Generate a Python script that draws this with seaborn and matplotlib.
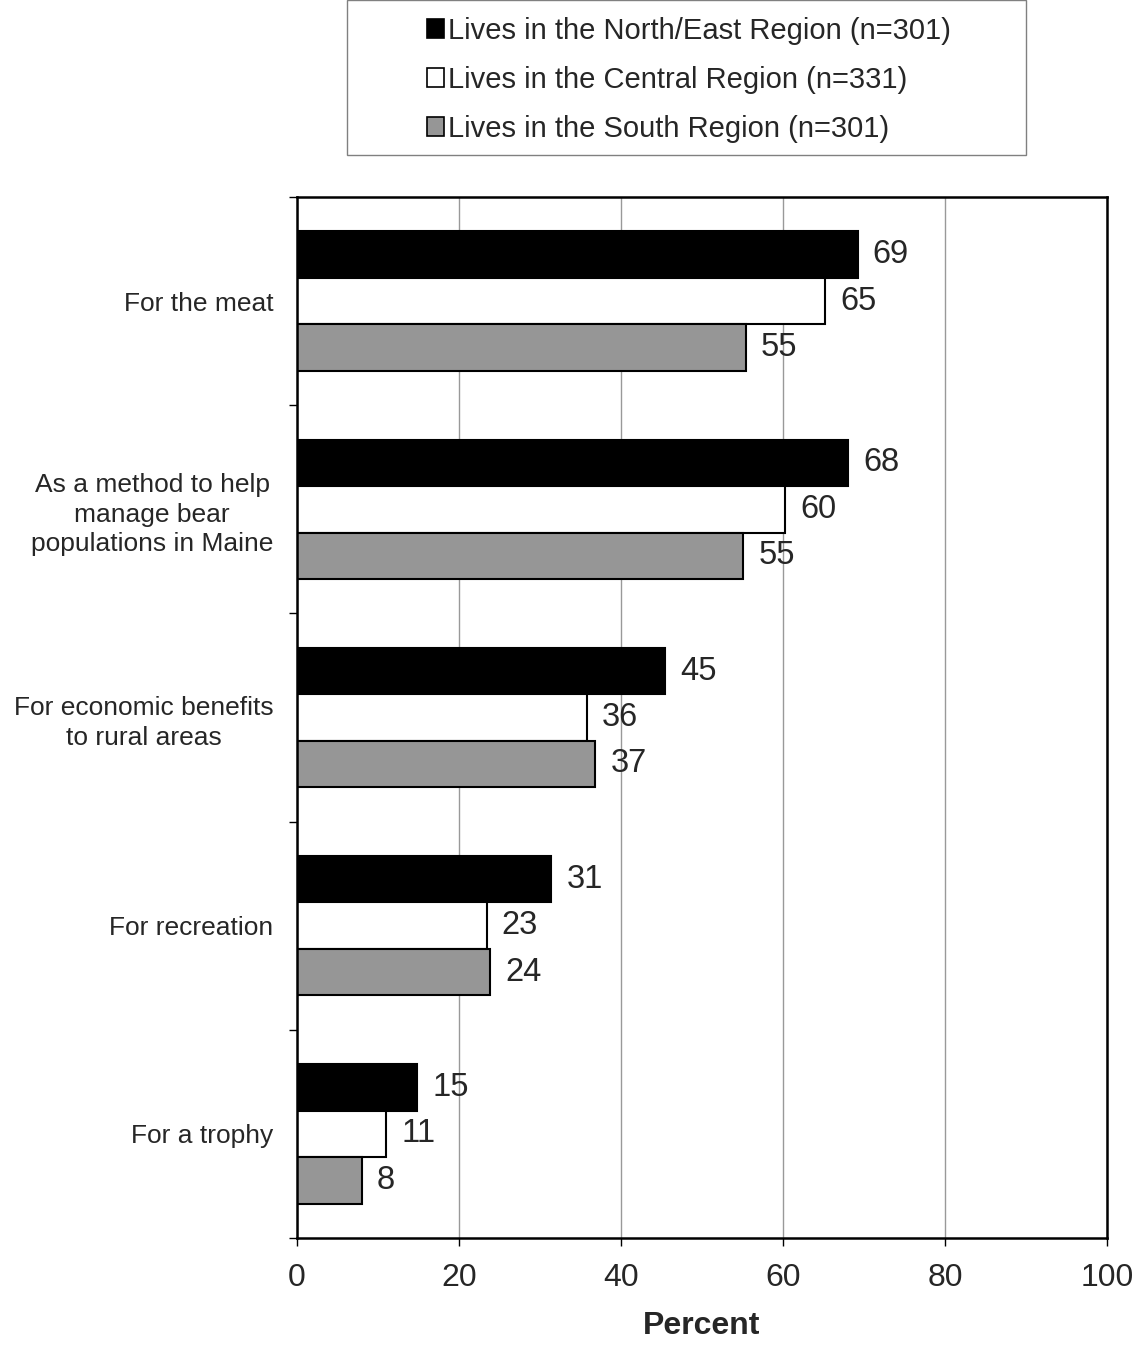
import pandas as pd
import seaborn as sns
import matplotlib.pyplot as plt
from matplotlib.patches import Rectangle
from matplotlib.ticker import FixedLocator

# Reasons for bear hunting, by region of residence (percent).
reasons = ['For the meat',
           'As a method to help\nmanage bear\npopulations in Maine',
           'For economic benefits\nto rural areas',
           'For recreation',
           'For a trophy']
regions = ['Lives in the North/East Region (n=301)',
           'Lives in the Central Region (n=331)',
           'Lives in the South Region (n=301)']
north_east = [69.2, 68.0, 45.4, 31.4, 14.8]
central = [65.2, 60.3, 35.8, 23.4, 11.0]
south = [55.4, 55.1, 36.8, 23.8, 8.0]

sns.set_style('white')
plt.rcParams['font.family'] = ['Liberation Sans', 'DejaVu Sans']

df = pd.DataFrame({
    'reason': reasons * 3,
    'region': [regions[0]] * 5 + [regions[1]] * 5 + [regions[2]] * 5,
    'percent': north_east + central + south,
})
palette = {regions[0]: 'black', regions[1]: 'white', regions[2]: '#969696'}

fig = plt.figure(figsize=(11.35, 13.45), dpi=100)
ax = fig.add_axes([297 / 1135, 1 - 1238 / 1345, 810 / 1135, 1041 / 1345])

sns.barplot(data=df, y='reason', x='percent', hue='region', order=reasons,
            hue_order=regions, palette=palette, orient='h', width=0.67,
            edgecolor='black', linewidth=1.5, ax=ax, legend=False)

# Value labels right of each bar
for cont in ax.containers:
    ax.bar_label(cont, labels=[f'{v:.0f}' for v in cont.datavalues],
                 padding=11, fontsize=23.5)

ax.set_xlim(0, 100)
ax.set_ylim(4.5, -0.5)
ax.set_xticks([0, 20, 40, 60, 80, 100])
ax.tick_params(axis='x', labelsize=23, length=6, width=1, direction='out',
               pad=12, bottom=True, color='black')
ax.xaxis.grid(True, color='#999999', linewidth=1)
ax.set_axisbelow(True)

# category labels at centers, tick marks at the boundaries
ax.tick_params(axis='y', which='major', length=0, labelsize=19, pad=17)
ax.yaxis.set_minor_locator(FixedLocator([-0.5, 0.5, 1.5, 2.5, 3.5, 4.5]))
ax.tick_params(axis='y', which='minor', length=6, width=1, left=True,
               direction='out', color='black')
for lab in ax.get_yticklabels():
    lab.set_multialignment('center')
    lab.set_linespacing(1.3)

for sp in ax.spines.values():
    sp.set_visible(True)
    sp.set_color('black')
    sp.set_linewidth(1.8)

ax.set_ylabel('')
ax.set_xlabel('Percent', fontsize=23, fontweight='bold', labelpad=13)

# Legend with its own box
handles = [Rectangle((0, 0), 1, 1, facecolor=palette[r], edgecolor='black',
                     linewidth=1.2) for r in regions]
fig.legend(handles, regions, loc='center',
           bbox_to_anchor=(0.607, 1 - 80 / 1345), frameon=False,
           fontsize=21, handlelength=0.6, handleheight=0.6,
           handletextpad=0.15, labelspacing=0.72)
fig.patches.append(Rectangle((347 / 1135, 1 - 155 / 1345), 679 / 1135,
                             155 / 1345, transform=fig.transFigure,
                             facecolor='none', edgecolor='#808080',
                             linewidth=1))

fig.savefig('out.png', dpi=100)
